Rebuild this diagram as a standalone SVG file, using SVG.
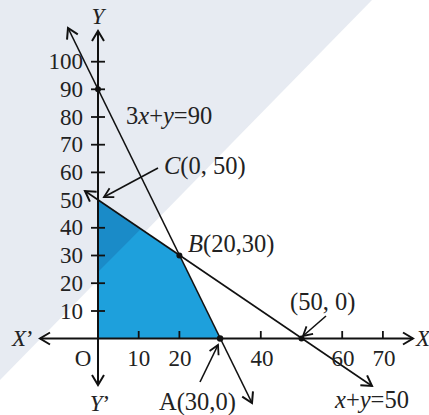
<svg xmlns="http://www.w3.org/2000/svg" width="429" height="415" viewBox="0 0 429 415">
<defs>
<marker id="ah" viewBox="-12 -8 14 16" markerWidth="14" markerHeight="16" refX="0" refY="0" orient="auto-start-reverse" markerUnits="userSpaceOnUse">
<path d="M-10,-6 L0,0 L-10,6" fill="none" stroke="#111" stroke-width="2"/>
</marker>
<marker id="ahs" viewBox="-10 -7 12 14" markerWidth="12" markerHeight="14" refX="0" refY="0" orient="auto" markerUnits="userSpaceOnUse">
<path d="M-9,-5 L0,0 L-9,5" fill="none" stroke="#111" stroke-width="1.8"/>
</marker>
</defs>
<style>
text{font-size:23px;fill:#222}
.lb{font-size:24.5px}
.ax{stroke:#111;stroke-width:2;fill:none}
.ln{stroke:#111;stroke-width:1.6;fill:none}
.tk{stroke:#111;stroke-width:1.8}
.dot{fill:#111}
.it{font-style:italic}
</style>
<rect width="429" height="415" fill="#ffffff"/>
<polygon points="0,0 372,0 0,380" fill="#e7ebf2"/>
<g id="region">
<polygon points="98,338.5 98,200 179.4,255.4 220.1,338.5" fill="#1ea0dc"/>
<polygon points="98,200 140.8,229.1 98,272" fill="#1a8bc8"/>
</g>
<g id="connectors">
<line class="ax" x1="40" y1="338.5" x2="413" y2="338.5" marker-start="url(#ah)" marker-end="url(#ah)"/>
<line class="ax" x1="98" y1="385" x2="98" y2="31" marker-start="url(#ah)" marker-end="url(#ah)"/>
<line class="ln" x1="68" y1="28" x2="252" y2="403" marker-start="url(#ah)" marker-end="url(#ah)"/>
<line class="ln" x1="85" y1="191" x2="372" y2="386" marker-start="url(#ah)" marker-end="url(#ah)"/>
<line class="ln" x1="158" y1="168" x2="104" y2="197" marker-end="url(#ahs)"/>
<line class="ln" x1="326" y1="316" x2="303" y2="336" marker-end="url(#ahs)"/>
<line class="ln" x1="200" y1="382" x2="218" y2="345" marker-end="url(#ahs)"/>
</g>
<g id="ticks">
<line class="tk" x1="91" y1="61.7" x2="105" y2="61.7"/>
<line class="tk" x1="91" y1="89.3" x2="105" y2="89.3"/>
<line class="tk" x1="91" y1="117" x2="105" y2="117"/>
<line class="tk" x1="91" y1="144.7" x2="105" y2="144.7"/>
<line class="tk" x1="91" y1="172.4" x2="105" y2="172.4"/>
<line class="tk" x1="91" y1="227.8" x2="105" y2="227.8"/>
<line class="tk" x1="91" y1="255.5" x2="105" y2="255.5"/>
<line class="tk" x1="91" y1="283.2" x2="105" y2="283.2"/>
<line class="tk" x1="91" y1="311" x2="105" y2="311"/>
<line class="tk" x1="138.7" y1="331" x2="138.7" y2="338.5"/>
<line class="tk" x1="179.4" y1="331" x2="179.4" y2="338.5"/>
<line class="tk" x1="260.8" y1="331" x2="260.8" y2="338.5"/>
<line class="tk" x1="342.2" y1="331" x2="342.2" y2="338.5"/>
<line class="tk" x1="382.9" y1="331" x2="382.9" y2="338.5"/>
</g>
<g id="points">
<circle class="dot" cx="98" cy="89.3" r="3"/>
<circle class="dot" cx="179.4" cy="255.4" r="3"/>
<circle class="dot" cx="220.1" cy="338.5" r="3.2"/>
<circle class="dot" cx="301.5" cy="338.5" r="3"/>
</g>
<g font-family="Liberation Serif, Times New Roman, serif">
<g id="ylabels" text-anchor="end">
<text x="83" y="69">100</text>
<text x="83" y="97">90</text>
<text x="83" y="125">80</text>
<text x="83" y="152">70</text>
<text x="83" y="180">60</text>
<text x="83" y="208">50</text>
<text x="83" y="235">40</text>
<text x="83" y="263">30</text>
<text x="83" y="291">20</text>
<text x="83" y="319">10</text>
</g>
<g id="xlabels" text-anchor="middle">
<text x="83" y="366">O</text>
<text x="138.7" y="366">10</text>
<text x="180" y="366">20</text>
<text x="262" y="366">40</text>
<text x="343" y="366">60</text>
<text x="384" y="366">70</text>
</g>
<g id="axis-names">
<text class="it" x="98" y="24" text-anchor="middle">Y</text>
<text x="100" y="411" text-anchor="middle"><tspan class="it">Y</tspan>’</text>
<text x="12" y="346"><tspan class="it">X</tspan>’</text>
<text class="it" x="416" y="346">X</text>
</g>
<g id="labels">
<text class="lb" x="126" y="124">3<tspan class="it">x</tspan>+<tspan class="it">y</tspan>=90</text>
<text class="lb" x="164" y="174"><tspan class="it">C</tspan>(0, 50)</text>
<text class="lb" x="188" y="252"><tspan class="it">B</tspan>(20,30)</text>
<text class="lb" x="290" y="310">(50, 0)</text>
<text class="lb" x="159" y="410">A(30,0)</text>
<text class="lb" x="335" y="408"><tspan class="it">x</tspan>+<tspan class="it">y</tspan>=50</text>
</g>
</g>
</svg>
